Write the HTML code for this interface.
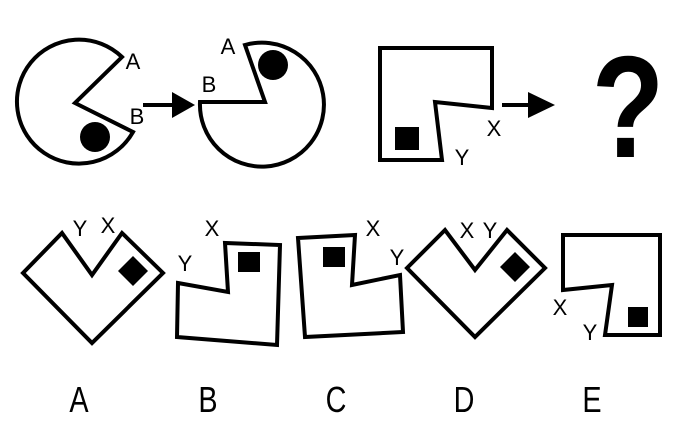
<!DOCTYPE html>
<html><head><meta charset="utf-8"><style>
html,body{margin:0;padding:0;background:#fff;width:679px;height:431px;overflow:hidden}
svg text{font-family:"Liberation Sans",sans-serif;fill:#000}
</style></head><body>
<svg width="679" height="431" viewBox="0 0 679 431" xmlns="http://www.w3.org/2000/svg">
<g fill="none" stroke="#000" stroke-width="4" stroke-linejoin="miter">
<path d="M122,57 L75,103 L133,132 A62,62 0 1 1 122,57 Z"/>
<path d="M200,102 L265,102 L245,45 A62,62 0 1 1 200,102 Z"/>
<path d="M380,48 L492,48 L492,108 L435,102 L442,160 L380,160 Z"/>
<path d="M23,273 L62,233 L92,275 L122,233 L163,273 L92,343 Z"/>
<path d="M178,283 L228,292 L225,243 L280,245 L277,345 L177,337 Z"/>
<path d="M298,238 L355,235 L352,285 L400,275 L403,332 L305,337 Z"/>
<path d="M407,268 L445,230 L475,270 L507,230 L545,268 L475,337 Z"/>
<path d="M563,235 L660,235 L660,335 L605,335 L612,285 L563,290 Z"/>
<line x1="143" y1="105" x2="175" y2="105"/>
<line x1="502" y1="105" x2="530" y2="105"/>
</g>
<g fill="#000">
<circle cx="95" cy="137" r="15"/>
<circle cx="273" cy="65" r="15"/>
<rect x="395" y="127" width="24" height="23"/>
<polygon points="133,256 148,271 133,286 118,271"/>
<rect x="238" y="252" width="22" height="20"/>
<rect x="323" y="247" width="22" height="20"/>
<polygon points="515,252 530,267 515,282 500,267"/>
<rect x="628" y="307" width="20" height="20"/>
<polygon points="172,92 195,105 172,118"/>
<polygon points="528,92 555,105 528,118"/>
</g>
<g font-size="22" text-anchor="middle">
<text x="133" y="69">A</text>
<text x="137" y="124">B</text>
<text x="228" y="54">A</text>
<text x="209" y="92">B</text>
<text x="494" y="136">X</text>
<text x="462" y="165">Y</text>
<text x="80" y="236">Y</text>
<text x="108" y="233">X</text>
<text x="212" y="236">X</text>
<text x="185" y="271">Y</text>
<text x="373" y="236">X</text>
<text x="397" y="265">Y</text>
<text x="467" y="238">X</text>
<text x="490" y="238">Y</text>
<text x="560" y="315">X</text>
<text x="590" y="340">Y</text>
</g>
<text x="628" y="157" font-size="145" font-weight="bold" text-anchor="middle" transform="translate(628,0) scale(0.82,1) translate(-628,0)">?</text>
<g font-size="36" text-anchor="middle">
<text x="79" y="412" transform="translate(79,0) scale(0.8,1) translate(-79,0)">A</text>
<text x="208" y="412" transform="translate(208,0) scale(0.8,1) translate(-208,0)">B</text>
<text x="336" y="412" transform="translate(336,0) scale(0.8,1) translate(-336,0)">C</text>
<text x="464" y="412" transform="translate(464,0) scale(0.8,1) translate(-464,0)">D</text>
<text x="592" y="412" transform="translate(592,0) scale(0.8,1) translate(-592,0)">E</text>
</g>
</svg>
</body></html>
